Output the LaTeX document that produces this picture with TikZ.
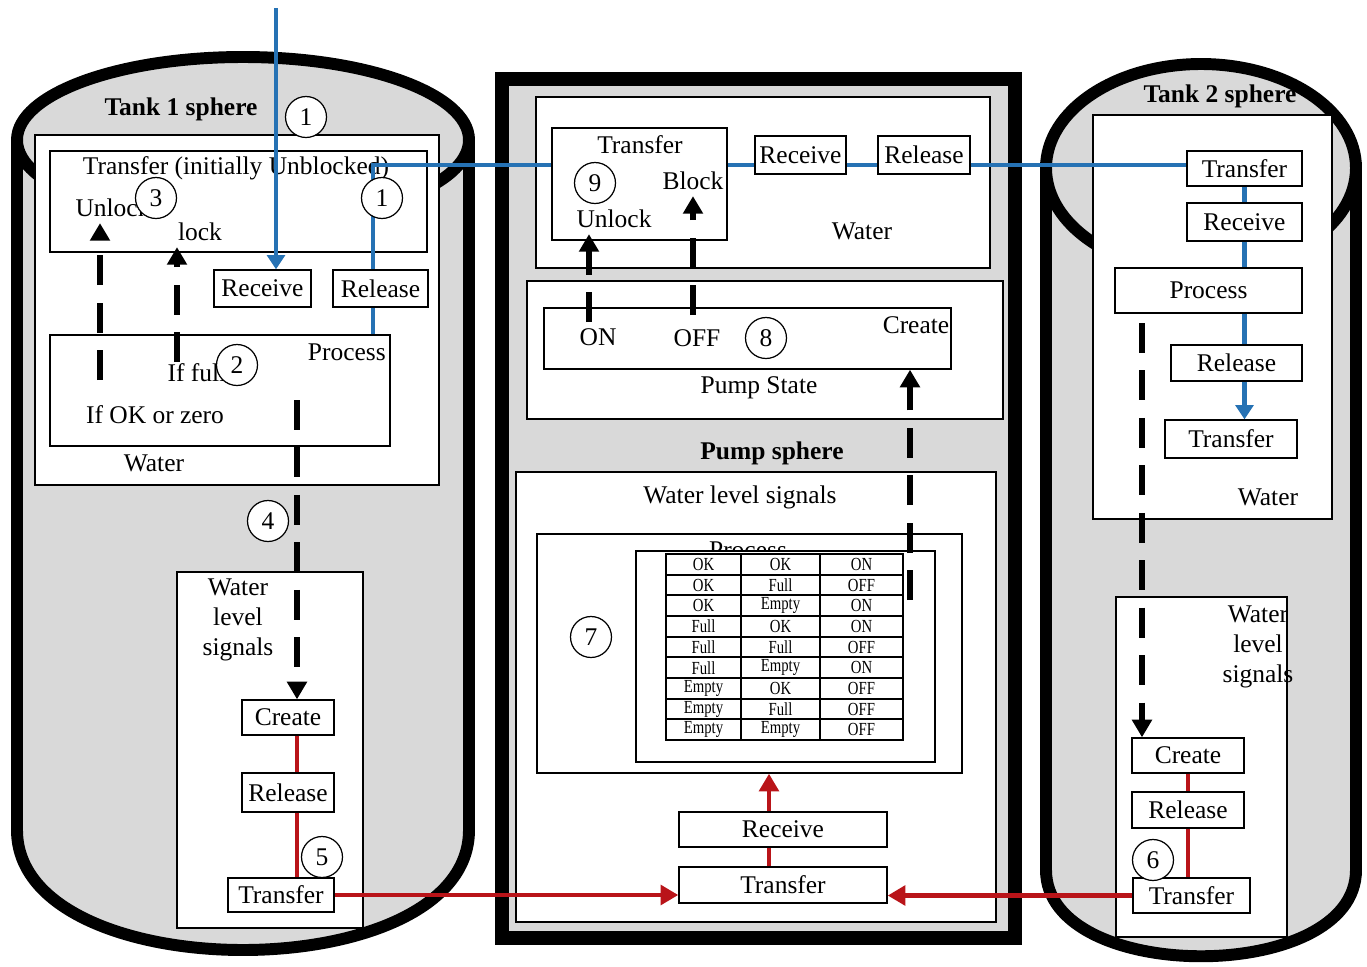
\documentclass[tikz,border=0pt]{standalone}
\usepackage{fontspec}
\setmainfont{Liberation Serif}
\usetikzlibrary{positioning,calc,arrows.meta}
\definecolor{tankgray}{RGB}{217,217,217}
\definecolor{flowblue}{RGB}{38,114,180}
\definecolor{flowred}{RGB}{185,20,25}
\tikzset{
  wall/.style={line width=6.8pt},
  cbox/.style={draw, fill=white, line width=0.8pt, inner sep=0pt},
  sz/.style 2 args={minimum width=#1*0.02cm, minimum height=#2*0.02cm},
  tag/.style={circle, draw, fill=white, line width=0.7pt, minimum size=0.82cm, inner sep=0pt},
  bluef/.style={flowblue, line width=2.8pt},
  redf/.style={flowred, line width=2.8pt},
  sig/.style={line width=3.6pt, dash pattern=on 17pt off 10pt},
  tipK/.style={-{Triangle[length=10pt,width=11pt]}},
  tipB/.style={-{Triangle[length=8pt,width=10pt]}},
  tipR/.style={-{Triangle[length=10pt,width=11pt]}},
  hd/.style={font=\fontsize{14.5}{17}\selectfont\bfseries},
  cell/.style={font=\fontsize{10.5}{11}\selectfont, inner sep=0pt},
}

\begin{document}
\begin{tikzpicture}[x=0.02cm, y=-0.02cm, every node/.style={font=\fontsize{14.5}{17}\selectfont}]
    \useasboundingbox (0,0) rectangle (1367,967);

    % tank 1
    \fill[tankgray] (243,140) ellipse (226 and 83);
    \fill[tankgray] (17,140) -- (17,830) .. controls (17,990) and (469,990) .. (469,830) -- (469,140) -- cycle;
    \draw[wall] (17,140) -- (17,830) .. controls (17,990) and (469,990) .. (469,830) -- (469,140);
    \draw[wall] (243,140) ellipse (226 and 83);
    % tank 2
    \fill[tankgray] (1201,168) ellipse (155 and 104);
    \fill[tankgray] (1046,168) -- (1046,870) .. controls (1046,985) and (1356,985) .. (1356,870) -- (1356,168) -- cycle;
    \draw[wall] (1046,168) -- (1046,870) .. controls (1046,985) and (1356,985) .. (1356,870) -- (1356,168);
    \draw[wall] (1201,168) ellipse (155 and 104);
    % pump
    \draw[line width=7.9pt, fill=tankgray] (502,79) rectangle (1015,938);

    % tank 1 boxes
    \node[cbox, sz={404}{350}] (t1water) at (237,310) {};
    \node[cbox, sz={377}{101}] (t1trans) at (238.5,201.5) {};
    \node[cbox, sz={97}{37}] (t1rec) at (262.5,288.5) {Receive};
    \node[cbox, sz={95}{37}] (t1rel) at (380.5,288.5) {Release};
    \node[cbox, sz={340}{111}] (t1proc) at (220,390.5) {};
    \node[cbox, sz={186}{356}] (t1sig) at (270,750) {};
    \node[cbox, sz={92}{35}] (t1create) at (288,717.5) {Create};
    \node[cbox, sz={92}{39}] (t1release) at (288,792.5) {Release};
    \node[cbox, sz={106}{34}] (t1out) at (281,895) {Transfer};

    \node[hd] (t1name) at (181,109) {Tank 1 sphere};
    \node (t1waterlbl) at (154,463) {Water};
    \node (t1translbl) at (236,168) {Transfer (initially Unblocked)};
    \node (t1unlock) at (113,208) {Unlock};
    \node (t1lock) at (200,232) {lock};
    \node[anchor=east] (t1proclbl) at (392,352) {Process};
    \node (t1full) at (197,373) {If full};
    \node (t1ok) at (155,415) {If OK or zero};
    \node[align=center] (t1siglbl) at (238,620) {Water\\level\\signals};

    % pump boxes
    \node[cbox, sz={454}{171}] (pwater) at (763,182.5) {};
    \node[cbox, sz={175}{112}] (ptrans) at (639.5,184) {};
    \node[cbox, sz={91}{38}] (prec) at (800.5,155) {Receive};
    \node[cbox, sz={92}{38}] (prel) at (924,155) {Release};
    \node[cbox, sz={476}{138}] (pstate) at (765,350) {};
    \node[cbox, sz={407}{61}] (pswitch) at (747.5,338.5) {};
    \node[cbox, sz={480}{450}] (psig) at (756,697) {};
    \node[cbox, sz={425}{239}] (pproc) at (749.5,653.5) {};
    \node (pproclbl) at (748,550) {Process};
    \node[cbox, sz={299}{211}] (ptable) at (785.5,656.5) {};
    \node[cbox, sz={208}{35}] (pin) at (783,829.5) {Receive};
    \node[cbox, sz={208}{36}] (pout) at (783,885) {Transfer};

    \node (pwaterlbl) at (862,231) {Water};
    \node (ptranslbl) at (640,145) {Transfer};
    \node (pblock) at (693,181) {Block};
    \node (punlock) at (614,219) {Unlock};
    \node (pon) at (598,337) {ON};
    \node (poff) at (697,338) {OFF};
    \node (pcreate) at (916,325) {Create};
    \node (pstatelbl) at (759,388) {Pump State};
    \node[hd] (pname) at (772,453) {Pump sphere};
    \node (psiglbl) at (740,497) {Water level signals};

    % rule table
    \draw[line width=1pt] (666,554) rectangle (903,740);
    \foreach \r in {1,...,8}
        \draw[line width=1pt] (666,{554+\r*20.67}) -- (903,{554+\r*20.67});
    \draw[line width=1pt] (741,554) -- (741,740) (820,554) -- (820,740);
    \foreach \a/\b/\c [count=\r] in {OK/OK/ON, OK/Full/OFF, OK/Empty/ON, Full/OK/ON, Full/Full/OFF,
            Full/Empty/ON, Empty/OK/OFF, Empty/Full/OFF, Empty/Empty/OFF} {
        \pgfmathsetmacro\ty{554+(\r-0.5)*20.67}
        \node[cell] (ca\r) at (703.5,\ty) {\scalebox{0.8}[1]{\a}};
        \node[cell] (cb\r) at (780.5,\ty) {\scalebox{0.8}[1]{\b}};
        \node[cell] (cc\r) at (861.5,\ty) {\scalebox{0.8}[1]{\c}};
    }

    % tank 2 boxes
    \node[cbox, sz={239}{404}] (t2water) at (1212.5,317) {};
    \node[cbox, sz={115}{35}] (t2in) at (1244.5,168.5) {Transfer};
    \node[cbox, sz={115}{38}] (t2rec) at (1244.5,222) {Receive};
    \node[cbox, sz={187}{45}] (t2proc) at (1208.5,290.5) {Process};
    \node[cbox, sz={131}{36}] (t2rel) at (1236.5,363) {Release};
    \node[cbox, sz={132}{38}] (t2out) at (1231,439) {Transfer};
    \node[cbox, sz={171}{340}] (t2sig) at (1201.5,767) {};
    \node[cbox, sz={112}{35}] (t2create) at (1188,755.5) {Create};
    \node[cbox, sz={112}{36}] (t2release) at (1188,810) {Release};
    \node[cbox, sz={117}{35}] (t2send) at (1191.5,895.5) {Transfer};

    \node[hd] (t2name) at (1220,96) {Tank 2 sphere};
    \node (t2waterlbl) at (1268,497) {Water};
    \node[align=center] (t2siglbl) at (1258,647) {Water\\level\\signals};

    % water flow
    \coordinate (inflow) at (276,8);
    \coordinate (t1turn) at (373,165);
    \draw[bluef, tipB] (inflow) -- (inflow |- t1rec.north);
    \draw[bluef] (t1turn |- t1proc.north) -- (t1turn |- t1rel.south);
    \draw[bluef] (t1turn |- t1rel.north) -- (t1turn) -- (ptrans.west |- t1turn);
    \draw[bluef] (ptrans.east |- t1turn) -- (prec.west |- t1turn);
    \draw[bluef] (prec.east |- t1turn) -- (prel.west |- t1turn);
    \draw[bluef] (prel.east |- t1turn) -- (t2in.west |- t1turn);
    \draw[bluef] (t2in.south) -- (t2rec.north);
    \draw[bluef] (t2rec.south) -- (t2rec.south |- t2proc.north);
    \draw[bluef] (t2rec.south |- t2proc.south) -- (t2rec.south |- t2rel.north);
    \draw[bluef, tipB] (t2rec.south |- t2rel.south) -- (t2rec.south |- t2out.north);

    % control signals
    \coordinate (t1unl) at (100,380);
    \coordinate (t1blk) at (177,362);
    \coordinate (t1lvl) at (297,400);
    \coordinate (ponup) at (589,322);
    \coordinate (poffup) at (693,315);
    \coordinate (pcrup) at (910,600);
    \coordinate (t2lvl) at (1142,323);
    \draw[sig, tipK] (t1unl) -- (t1unl |- t1unlock.south);
    \draw[sig, tipK] (t1blk) -- (t1blk |- t1lock.south);
    \draw[sig, tipK] (t1lvl) -- (t1lvl |- t1create.north);
    \draw[sig, tipK] (ponup) -- (ponup |- punlock.south);
    \draw[sig, tipK] (poffup) -- (poffup |- pblock.south);
    \draw[sig, tipK] (pcrup) -- (pcrup |- pswitch.south);
    \draw[sig, tipK] (t2lvl) -- (t2lvl |- t2create.north);

    % level messages
    \coordinate (pup) at (769,800);
    \draw[redf] (t1lvl |- t1create.south) -- (t1lvl |- t1release.north);
    \draw[redf] (t1lvl |- t1release.south) -- (t1lvl |- t1out.north);
    \draw[redf] (t2create.south) -- (t2release.north);
    \draw[redf] (t2release.south) -- (t2release.south |- t2send.north);
    \draw[redf, tipR] (t1out.east) -- (pout.west |- t1out.east);
    \draw[redf, tipR] (t2send.west) -- (pout.east |- t2send.west);
    \draw[redf] (pup |- pout.north) -- (pup |- pin.south);
    \draw[redf, tipR] (pup |- pin.north) -- (pup |- pproc.south);

    % step numbers
    \node[tag] (n1a) at (306,117) {1};
    \node[tag] (n1b) at (382,198) {1};
    \node[tag] (n2) at (237,365) {2};
    \node[tag] (n3) at (156,198) {3};
    \node[tag] (n4) at (268,521) {4};
    \node[tag] (n5) at (322,857) {5};
    \node[tag] (n6) at (1153,860) {6};
    \node[tag] (n7) at (591,637) {7};
    \node[tag] (n8) at (766,338) {8};
    \node[tag] (n9) at (595,183) {9};
\end{tikzpicture}
\end{document}
